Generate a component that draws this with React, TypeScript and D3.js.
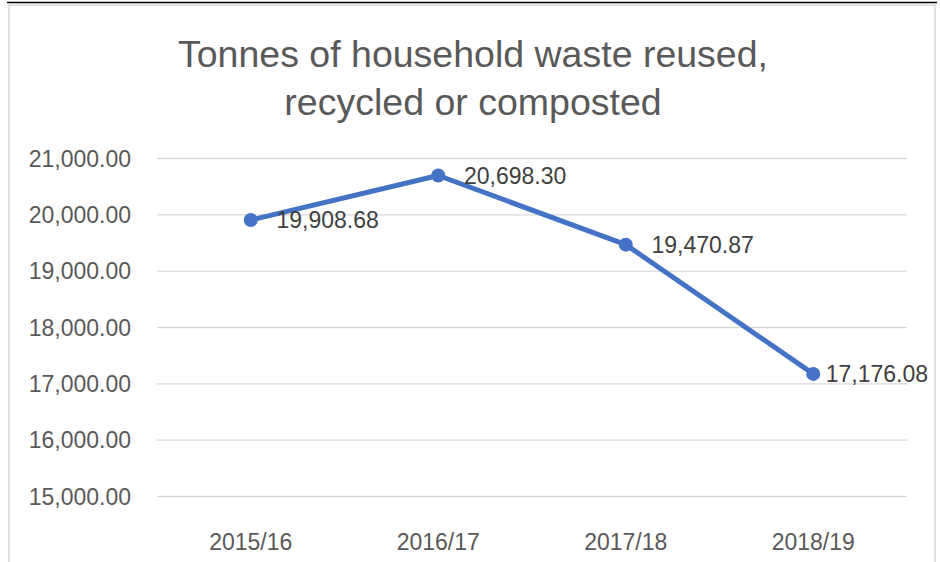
import React from 'react';
import * as d3 from 'd3';

const categories = ['2015/16', '2016/17', '2017/18', '2018/19'];
const values = [19908.68, 20698.3, 19470.87, 17176.08];
const yTicks = [15000, 16000, 17000, 18000, 19000, 20000, 21000];
const titleLines = ['Tonnes of household waste reused,', 'recycled or composted'];

const width = 940;
const height = 562;
const plot = { left: 157, right: 907, top: 158.5, bottom: 496.5 };
const font = '"Liberation Sans", Arial, sans-serif';

const fmt = d3.format(',.2f');

const App = () => {
  const x = d3
    .scaleBand()
    .domain(categories)
    .range([plot.left, plot.right]);

  const y = d3
    .scaleLinear()
    .domain([15000, 21000])
    .range([plot.bottom, plot.top]);

  const cx = (c: string) => (x(c) as number) + x.bandwidth() / 2;

  const line = d3
    .line<number>()
    .x((d, i) => cx(categories[i]))
    .y((d) => y(d));

  // approx width of a data label, used to keep the last one inside the frame
  const labelW = 105;

  return (
    <svg
      width={width}
      height={height}
      style={{ position: 'absolute', left: 0, top: 0, background: '#fff' }}
      fontFamily={font}
    >
      {/* frame */}
      <line x1={7} x2={937} y1={2.5} y2={2.5} stroke="#000" strokeWidth={1.5} />
      <rect x={9} y={5} width={926} height={600} fill="#fff" stroke="#d9d9d9" strokeWidth={1.5} />

      {titleLines.map((t, i) => (
        <text
          key={i}
          x={473}
          y={67 + i * 48}
          textAnchor="middle"
          fontSize={37.5}
          fill="#595959"
        >
          {t}
        </text>
      ))}

      {yTicks.map((t) => (
        <g key={t}>
          <line
            x1={plot.left}
            x2={plot.right}
            y1={y(t)}
            y2={y(t)}
            stroke="#d9d9d9"
            strokeWidth={1.4}
          />
          <text
            x={131}
            y={y(t)}
            dy="0.35em"
            textAnchor="end"
            fontSize={23}
            fill="#595959"
          >
            {fmt(t)}
          </text>
        </g>
      ))}

      {categories.map((c) => (
        <text
          key={c}
          x={cx(c)}
          y={550}
          textAnchor="middle"
          fontSize={23}
          fill="#595959"
        >
          {c}
        </text>
      ))}

      <path
        d={line(values) || ''}
        fill="none"
        stroke="#4472c4"
        strokeWidth={5}
        strokeLinejoin="round"
      />
      {values.map((v, i) => (
        <circle key={i} cx={cx(categories[i])} cy={y(v)} r={7} fill="#4472c4" />
      ))}

      {values.map((v, i) => {
        const px = cx(categories[i]);
        const end = Math.min(px + 23 + labelW, 928);
        return (
          <text
            key={i}
            x={end}
            y={y(v)}
            dy="0.35em"
            textAnchor="end"
            fontSize={23}
            fill="#404040"
          >
            {fmt(v)}
          </text>
        );
      })}
    </svg>
  );
};

export default App;
